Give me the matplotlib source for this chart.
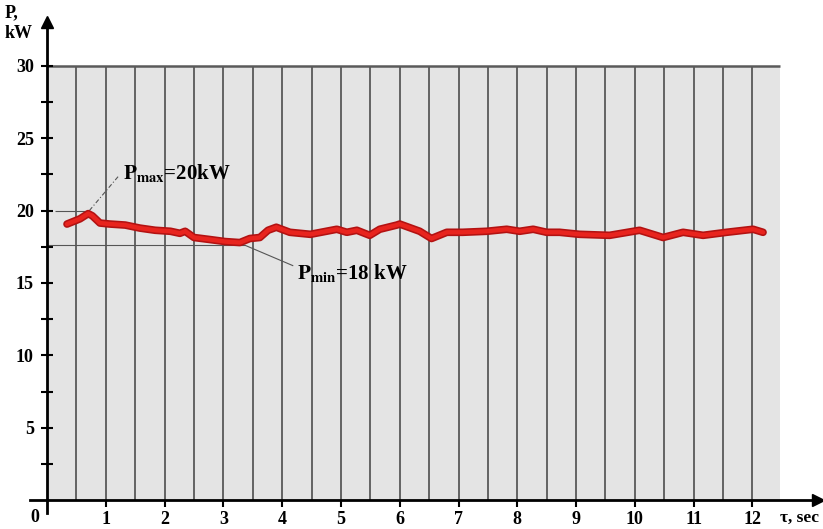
import matplotlib
matplotlib.use("Agg")
import matplotlib.pyplot as plt
import numpy as np

# power trace: time (sec) and P (kW)
t_sec = [0.34, 0.56, 0.70, 0.77, 0.90, 1.07, 1.33, 1.58, 1.84, 2.10, 2.26, 2.35,
         2.50, 2.77, 3.03, 3.28, 3.45, 3.62, 3.76, 3.90, 4.13, 4.48, 4.93, 5.10,
         5.27, 5.49, 5.66, 5.95, 6.00, 6.34, 6.54, 6.80, 7.07, 7.48, 7.82, 8.04,
         8.27, 8.50, 8.72, 9.06, 9.57, 10.08, 10.48, 10.82, 11.16, 11.56, 12.01, 12.18]
p_kw = [19.07, 19.43, 19.79, 19.64, 19.14, 19.07, 19.00, 18.79, 18.64, 18.57, 18.43, 18.57,
        18.14, 18.00, 17.86, 17.79, 18.07, 18.14, 18.64, 18.85, 18.50, 18.36, 18.71, 18.50,
        18.64, 18.29, 18.71, 19.00, 19.07, 18.57, 18.07, 18.50, 18.50, 18.57, 18.71, 18.57,
        18.71, 18.50, 18.50, 18.36, 18.29, 18.64, 18.14, 18.50, 18.29, 18.50, 18.71, 18.50]

x_ticks = list(range(1, 13))
y_ticks = [5, 10, 15, 20, 25, 30]
y_minor = [2.5, 7.5, 12.5, 17.5, 22.5, 27.5]
p_max, t_max = 20, 0.72
p_min, t_min = 17.6, 3.37
grid_right = 12.47
grid_top = 30

plt.rcParams['font.family'] = 'Liberation Serif'
plt.rcParams['font.weight'] = 'bold'
plt.rcParams['mathtext.fontset'] = 'stix'

fig = plt.figure(figsize=(8.23, 5.29), dpi=100)
ax = fig.add_axes([0, 0, 1, 1])
ax.set_xlim(-0.8, 13.2)
ax.set_ylim(-2.0, 34.55)
ax.patch.set_visible(False)

# grey plotting field with vertical lines every half second
ax.fill_between([0, grid_right], 0, grid_top, color='#e4e4e4', zorder=0, lw=0)
ax.vlines(np.arange(0.5, 12.01, 0.5), 0, grid_top, color='#404040', lw=1.1, zorder=1)
ax.hlines(grid_top, 0, grid_right, color='#5a5a5a', lw=1.8, zorder=1)

# reference lines and labels for Pmax / Pmin
ax.hlines(p_max, 0.13, t_max, color='#555555', lw=0.8, zorder=2)
ax.plot([t_max, 1.22], [p_max, 22.4], color='#555555', lw=0.8, ls=(0, (4, 2, 1, 2)), zorder=2)
ax.text(1.29, 22.6, r'$\mathbf{P}_{\mathbf{max}}$=20kW', fontsize=15, fontweight='bold',
        va='center', ha='left', zorder=3)
ax.hlines(p_min, 0, t_min, color='#555555', lw=0.8, zorder=2)
ax.plot([t_min, 4.18], [p_min, 16.2], color='#555555', lw=0.8, zorder=2)
ax.text(4.25, 15.7, r'$\mathbf{P}_{\mathbf{min}}$=18 kW', fontsize=15, fontweight='bold',
        va='center', ha='left', zorder=3)

# the red trace
ax.plot(t_sec, p_kw, color='#b31212', lw=5.5, solid_capstyle='round', zorder=4)
ax.plot(t_sec, p_kw, color='#e8241e', lw=3.2, solid_capstyle='round', zorder=5)

# axes with arrows
for s in ['top', 'right']:
    ax.spines[s].set_visible(False)
ax.spines['left'].set_position(('data', 0))
ax.spines['bottom'].set_position(('data', 0))
ax.spines['left'].set_bounds(-0.9, 32.6)
ax.spines['bottom'].set_bounds(-0.29, 13.0)
ax.spines['left'].set_linewidth(2)
ax.spines['bottom'].set_linewidth(2)
ax.plot([0], [33.0], marker='^', color='black', ms=9, clip_on=False, zorder=6)
ax.plot([13.12], [0], marker='>', color='black', ms=9, clip_on=False, zorder=6)

ax.set_yticks(y_ticks)
ax.set_yticks(y_minor, minor=True)
ax.set_xticks(x_ticks)
ax.tick_params(axis='y', which='both', direction='inout', length=9, width=1.5, pad=5,
               labelsize=13)
ax.tick_params(axis='x', direction='out', length=5, width=1.5, pad=3, labelsize=13)
for lab in ax.get_xticklabels() + ax.get_yticklabels():
    lab.set_fontweight('bold')

ax.text(-0.2, -1.2, '0', fontsize=13, fontweight='bold', ha='center', va='center')
ax.text(12.47, -1.2, 'τ, sec', fontsize=12.5, fontweight='bold', ha='left', va='center')
fig.text(5 / 823, 1 - 13 / 529, 'P,', fontsize=13, fontweight='bold', ha='left', va='center')
fig.text(5 / 823, 1 - 33 / 529, 'kW', fontsize=13, fontweight='bold', ha='left', va='center')

fig.savefig('out.png', dpi=100)
